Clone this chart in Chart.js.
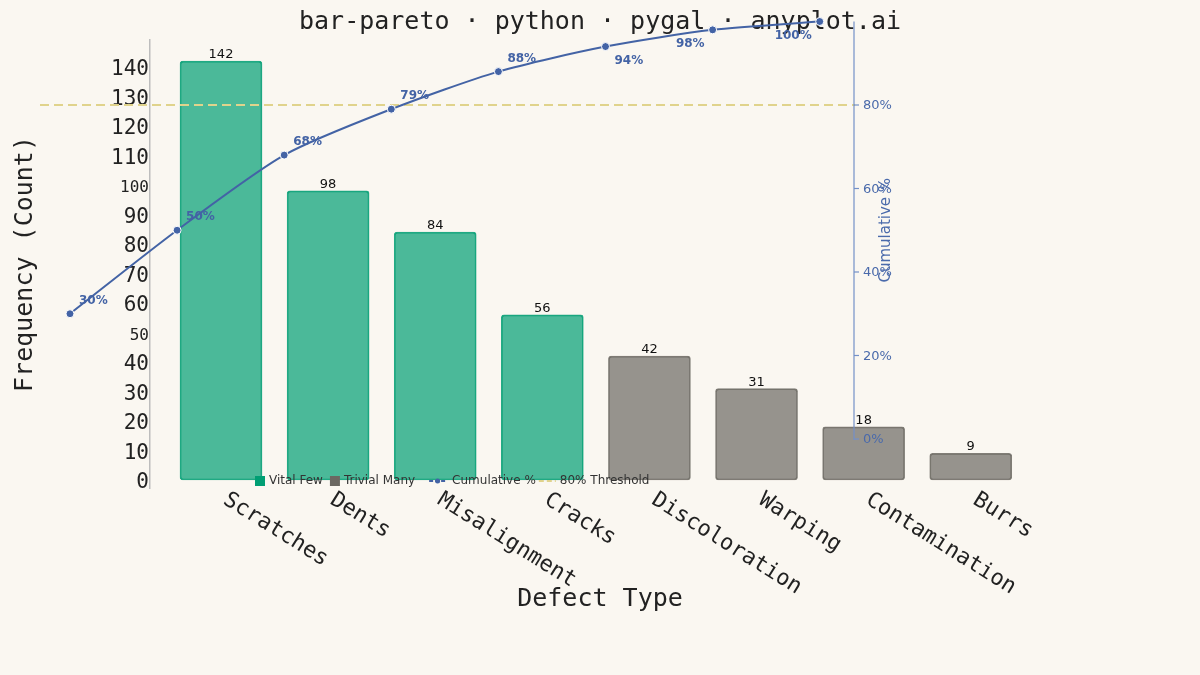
<!DOCTYPE html>
<html>
<head>
<meta charset="utf-8">
<script src="https://cdn.jsdelivr.net/npm/chart.js@4"></script>
<style>
  html, body { margin: 0; padding: 0; background: #faf7f1; }
  #wrap { width: 1200px; height: 675px; }
</style>
</head>
<body>
<div id="wrap"><canvas id="paretoChart"></canvas></div>
<script>
const categories = ['Scratches', 'Dents', 'Misalignment', 'Cracks', 'Discoloration', 'Warping', 'Contamination', 'Burrs'];
const counts = [142, 98, 84, 56, 42, 31, 18, 9];
const cumulativePct = [30, 50, 68, 79, 88, 94, 98, 100];
const countTicks = [0, 10, 20, 30, 40, 50, 60, 70, 80, 90, 100, 110, 120, 130, 140];
const smallCountTicks = [50, 100];
const pctTicks = [0, 20, 40, 60, 80];
const thresholdPct = 80;

const MONO = "'DejaVu Sans Mono', monospace";
const SANS = "'DejaVu Sans', sans-serif";
const TEAL = '0, 158, 115';
const GRAY = '107, 104, 98';
const BLUE = '#4363a5';
const GOLD = '#e0d38c';
const INK = '#222222';

// vital few = categories up to the threshold
const isVital = cumulativePct.map(p => p <= thresholdPct);
const vitalData = counts.map((c, i) => ({ x: i, y: c })).filter((d, i) => isVital[i]);
const trivialData = counts.map((c, i) => ({ x: i, y: c })).filter((d, i) => !isVital[i]);
const cumData = cumulativePct.map((p, i) => ({ x: i, y: p }));

const paretoDecor = {
  id: 'paretoDecor',
  beforeDatasetDraw(chart, args) {
    if (args.meta.type !== 'line') return;
    const ctx = chart.ctx;
    const y = chart.scales.y2.getPixelForValue(thresholdPct);
    ctx.save();
    ctx.strokeStyle = GOLD;
    ctx.lineWidth = 2;
    ctx.setLineDash([9, 5]);
    ctx.beginPath();
    ctx.moveTo(40, y);
    ctx.lineTo(855, y);
    ctx.stroke();
    ctx.restore();
  },
  afterDatasetsDraw(chart) {
    const ctx = chart.ctx;
    const xs = chart.scales.x;
    const y2 = chart.scales.y2;
    const area = chart.chartArea;
    ctx.save();

    // markers that fall outside the chart area are skipped by Chart.js
    chart.getDatasetMeta(2).data.forEach(el => {
      const inside = el.x >= area.left && el.x <= area.right && el.y >= area.top && el.y <= area.bottom;
      if (!inside) el.draw(ctx);
    });

    // value labels on bars
    ctx.fillStyle = '#111';
    ctx.font = '13px ' + SANS;
    ctx.textAlign = 'center';
    ctx.textBaseline = 'alphabetic';
    [0, 1].forEach(di => {
      const ds = chart.data.datasets[di];
      chart.getDatasetMeta(di).data.forEach((el, j) => {
        ctx.fillText(String(ds.data[j].y), el.x, el.y - 3);
      });
    });

    // cumulative labels
    ctx.fillStyle = BLUE;
    ctx.font = 'bold 12px ' + SANS;
    chart.getDatasetMeta(2).data.forEach((el, j) => {
      const below = el.y < 50;
      const left = el.x > 650;
      ctx.textAlign = left ? 'right' : 'left';
      ctx.fillText(cumulativePct[j] + '%', el.x + (left ? -8 : 9), el.y + (below ? 17 : -10));
    });

    // rotated category labels
    ctx.fillStyle = INK;
    ctx.font = '22px ' + MONO;
    ctx.textAlign = 'left';
    categories.forEach((name, i) => {
      ctx.save();
      ctx.translate(xs.getPixelForValue(i) + 1, 503);
      ctx.rotate(32 * Math.PI / 180);
      ctx.fillText(name, 0, 0);
      ctx.restore();
    });

    // secondary axis
    const ax = 854;
    ctx.strokeStyle = '#7390c8';
    ctx.lineWidth = 1.2;
    ctx.beginPath();
    ctx.moveTo(ax, y2.getPixelForValue(100));
    ctx.lineTo(ax, y2.getPixelForValue(0) + 1);
    ctx.stroke();
    ctx.fillStyle = '#4a6aab';
    ctx.font = '13px ' + SANS;
    ctx.textBaseline = 'middle';
    pctTicks.forEach(v => {
      const py = y2.getPixelForValue(v);
      ctx.beginPath();
      ctx.moveTo(ax, py);
      ctx.lineTo(ax + 5, py);
      ctx.stroke();
      ctx.fillText(v + '%', ax + 9, py + 1);
    });
    ctx.save();
    ctx.translate(886, (y2.getPixelForValue(100) + y2.getPixelForValue(0)) / 2);
    ctx.rotate(-Math.PI / 2);
    ctx.textAlign = 'center';
    ctx.font = '15px ' + SANS;
    ctx.fillText('Cumulative %', 0, 0);
    ctx.restore();

    // legend
    const ly = 481;
    let lx = 255;
    ctx.font = '12px ' + SANS;
    ctx.textAlign = 'left';
    ctx.textBaseline = 'middle';
    const legendText = (t) => {
      ctx.fillStyle = '#333';
      ctx.fillText(t, lx, ly);
      lx += ctx.measureText(t).width;
    };
    ctx.fillStyle = 'rgb(' + TEAL + ')';
    ctx.fillRect(lx, ly - 5, 10, 10);
    lx += 14;
    legendText(chart.data.datasets[0].label);
    lx += 7;
    ctx.fillStyle = 'rgb(' + GRAY + ')';
    ctx.fillRect(lx, ly - 5, 10, 10);
    lx += 14;
    legendText(chart.data.datasets[1].label);
    lx += 14;
    ctx.strokeStyle = BLUE;
    ctx.lineWidth = 2;
    ctx.setLineDash([4, 2]);
    ctx.beginPath();
    ctx.moveTo(lx, ly);
    ctx.lineTo(lx + 17, ly);
    ctx.stroke();
    ctx.setLineDash([]);
    ctx.fillStyle = BLUE;
    ctx.beginPath();
    ctx.arc(lx + 8.5, ly, 2.5, 0, Math.PI * 2);
    ctx.fill();
    lx += 23;
    legendText(chart.data.datasets[2].label);
    lx += 3;
    ctx.strokeStyle = GOLD;
    ctx.setLineDash([5, 3]);
    ctx.beginPath();
    ctx.moveTo(lx, ly);
    ctx.lineTo(lx + 17, ly);
    ctx.stroke();
    ctx.setLineDash([]);
    lx += 21;
    legendText(thresholdPct + '% Threshold');

    ctx.restore();
  }
};

const barStyle = (rgb) => ({
  backgroundColor: 'rgba(' + rgb + ', 0.7)',
  borderColor: 'rgba(' + rgb + ', 0.85)',
  borderWidth: 1,
  borderRadius: 3,
  borderSkipped: false,
  barThickness: 82,
  grouped: false,
  clip: false,
  order: 1
});

const chart = new Chart(document.getElementById('paretoChart'), {
  type: 'bar',
  data: {
    datasets: [
      Object.assign({ label: 'Vital Few', data: vitalData }, barStyle(TEAL)),
      Object.assign({ label: 'Trivial Many', data: trivialData }, barStyle(GRAY)),
      {
        type: 'line',
        label: 'Cumulative %',
        data: cumData,
        xAxisID: 'x2',
        yAxisID: 'y2',
        borderColor: BLUE,
        borderWidth: 2,
        tension: 0.25,
        pointRadius: 4,
        pointBackgroundColor: BLUE,
        pointBorderColor: '#ffffff',
        pointBorderWidth: 1,
        clip: false,
        order: 0
      }
    ]
  },
  options: {
    responsive: true,
    maintainAspectRatio: false,
    animation: false,
    layout: { padding: { left: 0, right: 0, top: 0, bottom: 61 } },
    plugins: {
      legend: { display: false },
      tooltip: { enabled: false },
      title: {
        display: true,
        text: 'bar-pareto · python · pygal · anyplot.ai',
        color: INK,
        font: { family: MONO, size: 25, weight: 'normal' },
        padding: { top: 7, bottom: 3 }
      }
    },
    scales: {
      x: {
        type: 'linear',
        offset: false,
        min: -0.663,
        max: 7.74,
        grid: { display: false, drawTicks: false },
        border: { display: false },
        ticks: { display: false },
        title: { display: true, text: 'Defect Type', color: INK, font: { family: MONO, size: 25 }, padding: 0 },
        afterFit: s => { s.height = 126; }
      },
      x2: { type: 'linear', offset: false, display: false, min: 0.747, max: 9.15 },
      y: {
        min: -2.71,
        max: 149.15,
        afterBuildTicks: s => { s.ticks = countTicks.map(v => ({ value: v })); },
        grid: { display: false, drawTicks: false },
        border: { display: true, color: '#bdbdbd', width: 1.5 },
        ticks: {
          autoSkip: false,
          padding: 1,
          color: INK,
          // empty first line nudges the digits down onto the tick value
          callback: v => ['', String(v)],
          font: c => ({
            family: MONO,
            size: c.tick && smallCountTicks.includes(c.tick.value) ? 16 : 21,
            lineHeight: '6px'
          })
        },
        title: {
          display: true,
          text: 'Frequency (Count)',
          color: INK,
          font: { family: MONO, size: 25 },
          padding: { top: 10, bottom: 0 }
        },
        afterFit: s => { s.width = 150; }
      },
      y2: {
        type: 'linear',
        position: 'right',
        min: -11.74,
        max: 95.57,
        grid: { display: false, drawTicks: false },
        border: { display: false },
        ticks: { display: false },
        afterFit: s => { s.width = 150; }
      }
    }
  },
  plugins: [paretoDecor]
});
</script>
</body>
</html>
